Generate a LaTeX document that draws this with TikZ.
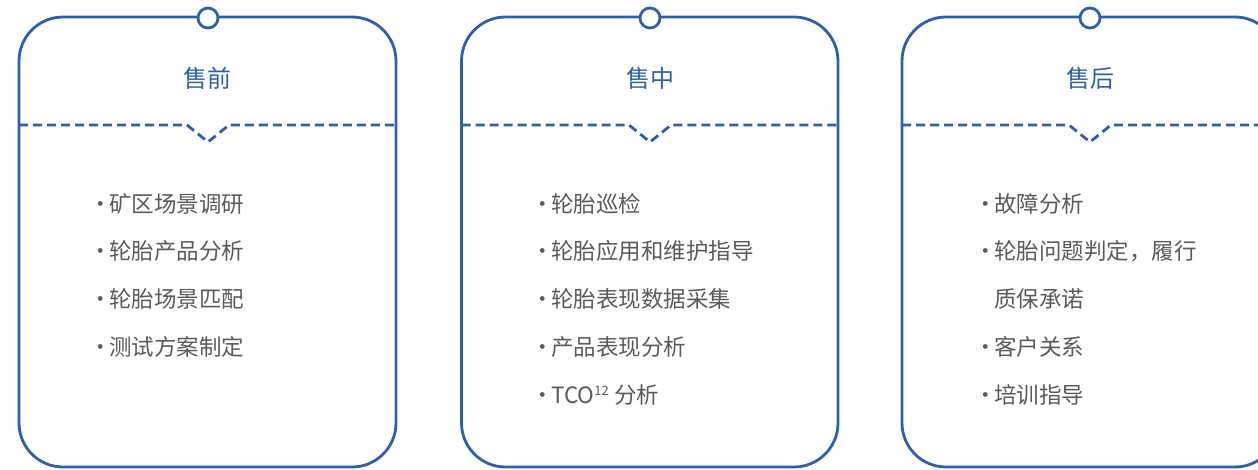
\documentclass[tikz,border=0pt]{standalone}
\usepackage{fontspec}
\setmainfont{Noto Sans CJK SC}
\usetikzlibrary{positioning}

\definecolor{cardblue}{HTML}{2E5FAC}
\definecolor{itemgray}{HTML}{5A5A5A}

\newcommand{\bul}{\makebox[0pt][r]{·\hspace{-2.5pt}}}

\tikzset{
    card/.style={draw=cardblue, line width=2.8pt, rounded corners=44pt},
    cut/.style={draw=cardblue, line width=2.8pt, dash pattern=on 9pt off 5pt},
    ring/.style={circle, draw=cardblue, fill=white, line width=2.8pt, minimum size=20pt, inner sep=0pt},
    title/.style={text=cardblue, font=\fontsize{24}{28}\selectfont},
    item/.style={anchor=west, inner sep=0pt, text=itemgray, font=\fontsize{22.5}{26}\selectfont}
}

\begin{document}
\begin{tikzpicture}[x=1pt, y=-1pt]
        \clip (0,0) rectangle (1258,469);

        % pre-sale
        \draw[card] (19,17) rectangle (396,467);
        \draw[cut] (19,125) -- (187,125) -- (208,142) -- (229,125) -- (396,125);
        \node[ring] (preRing) at (208,18) {};
        \node[title] (pre) at (207.5,78) {售前};
        \node[item] (pre1) at (109,204) {\bul 矿区场景调研};
        \node[item] (pre2) at (109,251) {\bul 轮胎产品分析};
        \node[item] (pre3) at (109,299) {\bul 轮胎场景匹配};
        \node[item] (pre4) at (109,347) {\bul 测试方案制定};

        % in-sale
        \draw[card] (461.5,17) rectangle (838,467);
        \draw[cut] (461.5,125) -- (629,125) -- (650,142) -- (671,125) -- (838,125);
        \node[ring] (midRing) at (650,18) {};
        \node[title] (mid) at (650,78) {售中};
        \node[item] (mid1) at (551,204) {\bul 轮胎巡检};
        \node[item] (mid2) at (551,251) {\bul 轮胎应用和维护指导};
        \node[item] (mid3) at (551,299) {\bul 轮胎表现数据采集};
        \node[item] (mid4) at (551,347) {\bul 产品表现分析};
        \node[item] (mid5) at (551,395) {\bul TCO\textsuperscript{\fontsize{13}{14}\selectfont 12} 分析};

        % after-sale
        \draw[card] (902,17) rectangle (1279,467);
        \draw[cut] (902,125) -- (1069,125) -- (1090,142) -- (1111,125) -- (1279,125);
        \node[ring] (postRing) at (1090,18) {};
        \node[title] (post) at (1090,78) {售后};
        \node[item] (post1) at (994,204) {\bul 故障分析};
        \node[item] (post2) at (994,251) {\bul 轮胎问题判定，履行};
        \node[item] (post2b) at (994,299) {质保承诺};
        \node[item] (post3) at (994,347) {\bul 客户关系};
        \node[item] (post4) at (994,395) {\bul 培训指导};

    \end{tikzpicture}
\end{document}
